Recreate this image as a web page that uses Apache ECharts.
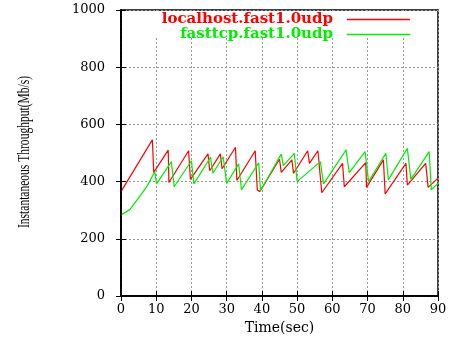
<!DOCTYPE html>
<html><head><meta charset="utf-8">
<script src="https://cdn.jsdelivr.net/npm/echarts@6/dist/echarts.min.js"></script>
<style>html,body{margin:0;padding:0;background:#fff}#c{width:455px;height:337px}</style>
</head><body><div id="c"></div>
<script>
var seriesNames = ['localhost.fast1.0udp', 'fasttcp.fast1.0udp'];
var xTicks = [0, 10, 20, 30, 40, 50, 60, 70, 80, 90];
var yTicks = [0, 200, 400, 600, 800, 1000];
var yTitle = 'Instantaneous Throughput(Mb/s)';
var xTitle = 'Time(sec)';
var redData = [
  [0,365],[8.9,546],[9.3,432],[13.4,510],[13.6,397],[19.2,508],[19.7,408],[24.7,497],[25.2,438],
  [28.2,497],[28.7,445],[32.5,520],[32.9,404],[38.1,508],[38.7,371],[39.4,365],[45,478],[45.5,432],
  [48.5,476],[49,429],[53,508],[53.5,464],[55.9,508],[57.0,361],[62.9,464],[63.4,382],[69.5,466],
  [69.7,380],[74.5,476],[75,357],[80.9,464],[81.3,388],[86.5,464],[87.2,380],[90,412]
];
var greenData = [
  [0,283],[2.5,302],[5,343],[7.5,386],[9.6,435],[10.1,392],[14.3,470],[15.1,382],[20,473],[20.7,392],
  [25.4,485],[26.1,429],[29,487],[30,394],[33.4,462],[34.2,371],[39.1,466],[39.6,368],[45.5,496],
  [46.1,456],[49.2,499],[50,400],[56.6,470],[57.5,392],[63.9,511],[64.8,431],[69.3,505],[70.3,400],
  [75.2,499],[75.9,406],[81.3,516],[82.3,408],[87.5,505],[88.1,371],[90,394]
];
var colors = ['#ff0000', '#00ee00'];

var chart = echarts.init(document.getElementById('c'), null, {renderer: 'canvas'});
var serif = 'DejaVu Serif';
var tickStyle = {show: true, inside: true, length: 5, lineStyle: {color: '#000', width: 1}};
var xMin = xTicks[0], xMax = xTicks[xTicks.length - 1];
var yMin = yTicks[0], yMax = yTicks[yTicks.length - 1];
chart.setOption({
  animation: false,
  backgroundColor: '#fff',
  grid: {left: 121, right: 17, top: 10, bottom: 41, containLabel: false, outerBoundsMode: 'none',
         show: true, borderColor: '#000', borderWidth: 1.5, backgroundColor: 'transparent'},
  graphic: [
    {type: 'rect', z: 3, shape: {x: 122, y: 11, width: 315, height: 25}, style: {fill: '#fff'}, silent: true},
    {type: 'text', z: 5, x: 25, y: 152, rotation: Math.PI / 2, scaleX: 0.72, silent: true,
     style: {text: yTitle, font: '16px "Liberation Serif"', fill: '#000', align: 'center', verticalAlign: 'middle'}}
  ],
  legend: {
    orient: 'vertical', right: 45, top: 12, align: 'right', itemWidth: 63, itemHeight: 1.5, itemGap: 0,
    padding: 0, z: 5, icon: 'rect',
    data: seriesNames.map(function (n, i) { return {name: n, textStyle: {color: colors[i]}}; }),
    textStyle: {fontFamily: serif, fontSize: 15, fontWeight: 'bold', lineHeight: 12, padding: [0, 9, 0, 0]}
  },
  xAxis: [{
    type: 'value', min: xMin, max: xMax, interval: 10,
    name: xTitle, nameLocation: 'middle', nameGap: 23,
    nameTextStyle: {fontFamily: serif, fontSize: 14, color: '#000'},
    axisLine: {show: true, lineStyle: {color: '#000', width: 1.5}},
    axisTick: tickStyle,
    axisLabel: {fontFamily: serif, fontSize: 13, color: '#000', margin: 7},
    splitLine: {show: true, lineStyle: {color: '#999', type: [2, 2], width: 1}}
  }, {
    type: 'value', position: 'top', min: xMin, max: xMax, interval: 10, z: 4,
    axisLine: {show: true, lineStyle: {color: '#000', width: 1.5}},
    axisTick: tickStyle, axisLabel: {show: false}, splitLine: {show: false}
  }],
  yAxis: [{
    type: 'value', min: yMin, max: yMax, interval: 200,
    axisLine: {show: true, lineStyle: {color: '#000', width: 1.5}},
    axisTick: tickStyle,
    axisLabel: {fontFamily: serif, fontSize: 13, color: '#000', margin: 16, formatter: function (v) { return String(v); }},
    splitLine: {show: true, lineStyle: {color: '#999', type: [2, 2], width: 1}}
  }, {
    type: 'value', position: 'right', min: yMin, max: yMax, interval: 200, z: 4,
    axisLine: {show: true, lineStyle: {color: '#000', width: 1.5}},
    axisTick: tickStyle, axisLabel: {show: false}, splitLine: {show: false}
  }],
  series: [
    {name: seriesNames[0], type: 'line', data: redData, symbol: 'none', lineStyle: {color: colors[0], width: 1.2}, itemStyle: {color: colors[0]}, z: 2},
    {name: seriesNames[1], type: 'line', data: greenData, symbol: 'none', lineStyle: {color: colors[1], width: 1.2}, itemStyle: {color: colors[1]}, z: 2}
  ]
});
</script></body></html>
